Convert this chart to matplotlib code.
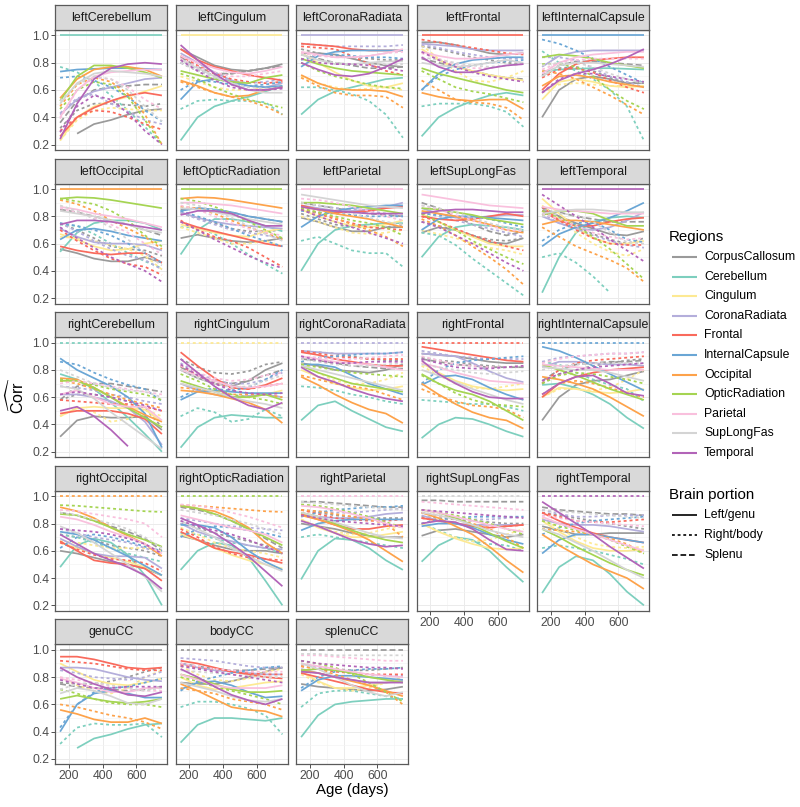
import numpy as np
import matplotlib
matplotlib.use("Agg")
import matplotlib.pyplot as plt
from matplotlib.lines import Line2D

plt.rcParams['font.family'] = ['Liberation Sans', 'DejaVu Sans']
plt.rcParams['mathtext.fontset'] = 'custom'
plt.rcParams['mathtext.rm'] = 'Liberation Sans'
plt.rcParams['mathtext.it'] = 'Liberation Sans:italic'

# ---------------- data ----------------
AGES = [150, 250, 350, 450, 550, 650, 750]
SELF_CORR = 1.0

REGIONS = ['CorpusCallosum', 'Cerebellum', 'Cingulum', 'CoronaRadiata', 'Frontal',
           'InternalCapsule', 'Occipital', 'OpticRadiation', 'Parietal', 'SupLongFas', 'Temporal']
COLORS = ['#9a9a9a', '#7dcfbe', '#fde993', '#b4aedb', '#f96a5c', '#6aa6d5',
          '#fda24a', '#a5d452', '#f9c0dd', '#d4d4d4', '#b264b8']
PORTIONS = ['Left/genu', 'Right/body', 'Splenu']

PANELS = ['leftCerebellum', 'leftCingulum', 'leftCoronaRadiata', 'leftFrontal', 'leftInternalCapsule',
          'leftOccipital', 'leftOpticRadiation', 'leftParietal', 'leftSupLongFas', 'leftTemporal',
          'rightCerebellum', 'rightCingulum', 'rightCoronaRadiata', 'rightFrontal', 'rightInternalCapsule',
          'rightOccipital', 'rightOpticRadiation', 'rightParietal', 'rightSupLongFas', 'rightTemporal',
          'genuCC', 'bodyCC', 'splenuCC']
PANEL_REGION = [1, 2, 3, 4, 5, 6, 7, 8, 9, 10, 1, 2, 3, 4, 5, 6, 7, 8, 9, 10, 0, 0, 0]
PANEL_PORTION = [0] * 10 + [1] * 10 + [0, 1, 2]

# Each list: curves of that panel's variable against every LATER variable in PANELS order
leftCerebellum = [
    [0.23, 0.40, 0.48, 0.52, 0.55, 0.59, 0.63],
    [0.42, 0.53, 0.59, 0.62, 0.65, 0.68, 0.69],
    [0.26, 0.40, 0.47, 0.52, 0.56, 0.58, 0.56],
    [0.735, 0.75, 0.755, 0.76, 0.76, 0.755, 0.75],
    [0.54, 0.68, 0.75, 0.77, 0.77, 0.75, 0.70],
    [0.52, 0.70, 0.78, 0.78, 0.76, 0.73, 0.69],
    [0.40, 0.60, 0.70, 0.73, 0.74, 0.75, 0.75],
    [0.50, 0.65, 0.72, 0.74, 0.73, 0.72, 0.70],
    [0.24, 0.50, 0.68, 0.76, 0.79, 0.80, 0.79],
    [0.77, 0.73, 0.66, 0.56, 0.45, 0.33, 0.20],
    [0.23, 0.38, 0.45, 0.47, 0.46, 0.45, 0.45],
    [0.43, 0.54, 0.57, 0.50, 0.44, 0.38, 0.35],
    [0.30, 0.40, 0.45, 0.44, 0.40, 0.35, 0.31],
    [0.69, 0.70, 0.67, 0.62, 0.55, 0.45, 0.37],
    [0.48, 0.64, 0.69, 0.66, 0.57, 0.42, 0.20],
    [0.46, 0.60, 0.66, 0.64, 0.55, 0.38, 0.20],
    [0.39, 0.60, 0.69, 0.68, 0.62, 0.53, 0.46],
    [0.52, 0.64, 0.70, 0.68, 0.60, 0.48, 0.37],
    [0.29, 0.48, 0.56, 0.53, 0.43, 0.30, 0.20],
    [None, 0.28, 0.35, 0.38, 0.42, 0.45, 0.46],
    [0.32, 0.45, 0.50, 0.50, 0.49, 0.48, 0.50],
    [0.36, 0.52, 0.60, 0.62, 0.63, 0.64, 0.64],
]
leftCingulum = [
    [0.87, 0.80, 0.73, 0.67, 0.63, 0.62, 0.65],
    [0.90, 0.82, 0.77, 0.74, 0.71, 0.69, 0.67],
    [0.53, 0.66, 0.68, 0.66, 0.63, 0.62, 0.63],
    [0.67, 0.63, 0.58, 0.55, 0.56, 0.60, 0.62],
    [0.74, 0.71, 0.68, 0.66, 0.65, 0.69, 0.71],
    [0.85, 0.80, 0.76, 0.73, 0.72, 0.74, 0.77],
    [0.82, 0.76, 0.70, 0.65, 0.60, 0.58, 0.58],
    [0.93, 0.82, 0.72, 0.64, 0.60, 0.60, 0.62],
    [0.46, 0.52, 0.53, 0.52, 0.52, 0.51, 0.42],
    [0.70, 0.66, 0.62, 0.60, 0.60, 0.62, 0.65],
    [0.80, 0.75, 0.70, 0.67, 0.65, 0.66, 0.68],
    [0.85, 0.78, 0.72, 0.68, 0.66, 0.65, 0.66],
    [0.60, 0.67, 0.66, 0.64, 0.63, 0.64, 0.66],
    [0.66, 0.62, 0.58, 0.55, 0.52, 0.48, 0.42],
    [0.72, 0.68, 0.62, 0.57, 0.53, 0.50, 0.47],
    [0.83, 0.77, 0.73, 0.70, 0.70, 0.72, 0.74],
    [0.80, 0.74, 0.69, 0.65, 0.62, 0.61, 0.62],
    [0.82, 0.74, 0.67, 0.62, 0.60, 0.60, 0.61],
    [0.90, 0.84, 0.78, 0.75, 0.74, 0.76, 0.79],
    [0.80, 0.74, 0.71, 0.72, 0.74, 0.76, 0.77],
    [0.84, 0.77, 0.72, 0.72, 0.74, 0.76, 0.78],
]
leftCoronaRadiata = [
    [0.94, 0.93, 0.92, 0.90, 0.89, 0.89, 0.89],
    [0.77, 0.85, 0.88, 0.89, 0.89, 0.89, 0.89],
    [0.71, 0.65, 0.61, 0.60, 0.60, 0.59, 0.55],
    [0.83, 0.79, 0.76, 0.74, 0.73, 0.72, 0.71],
    [0.88, 0.86, 0.84, 0.84, 0.85, 0.87, 0.90],
    [0.86, 0.82, 0.79, 0.79, 0.80, 0.81, 0.81],
    [0.80, 0.75, 0.71, 0.70, 0.72, 0.77, 0.83],
    [0.62, 0.62, 0.60, 0.57, 0.52, 0.42, 0.25],
    [0.70, 0.65, 0.62, 0.60, 0.61, 0.62, 0.60],
    [0.94, 0.93, 0.92, 0.92, 0.92, 0.92, 0.93],
    [0.92, 0.91, 0.90, 0.85, 0.79, 0.74, 0.71],
    [0.82, 0.86, 0.86, 0.85, 0.84, 0.84, 0.83],
    [0.69, 0.63, 0.58, 0.56, 0.56, 0.55, 0.47],
    [0.80, 0.74, 0.70, 0.67, 0.64, 0.62, 0.61],
    [0.87, 0.85, 0.84, 0.84, 0.85, 0.87, 0.88],
    [0.86, 0.82, 0.80, 0.79, 0.79, 0.79, 0.79],
    [0.83, 0.80, 0.79, 0.79, 0.78, 0.76, 0.74],
    [0.87, 0.87, 0.86, 0.83, 0.80, 0.78, 0.77],
    [0.90, 0.87, 0.85, 0.84, 0.83, 0.82, 0.82],
    [0.86, 0.83, 0.80, 0.78, 0.76, 0.76, 0.77],
]
leftFrontal = [
    [0.60, 0.72, 0.79, 0.82, 0.83, 0.84, 0.84],
    [0.58, 0.55, 0.53, 0.52, 0.53, 0.53, 0.46],
    [0.76, 0.72, 0.69, 0.66, 0.63, 0.60, 0.58],
    [0.88, 0.85, 0.83, 0.83, 0.84, 0.86, 0.87],
    [0.80, 0.78, 0.77, 0.78, 0.80, 0.82, 0.80],
    [0.84, 0.77, 0.73, 0.73, 0.76, 0.78, 0.79],
    [0.48, 0.50, 0.50, 0.50, 0.48, 0.44, 0.33],
    [0.93, 0.83, 0.74, 0.67, 0.66, 0.69, 0.74],
    [0.93, 0.91, 0.88, 0.86, 0.84, 0.83, 0.83],
    [0.97, 0.95, 0.93, 0.91, 0.89, 0.87, 0.86],
    [0.60, 0.70, 0.75, 0.78, 0.80, 0.81, 0.82],
    [0.67, 0.60, 0.53, 0.51, 0.50, 0.47, 0.38],
    [0.74, 0.68, 0.62, 0.59, 0.57, 0.54, 0.51],
    [0.87, 0.83, 0.79, 0.76, 0.76, 0.78, 0.79],
    [0.84, 0.82, 0.80, 0.78, 0.77, 0.78, 0.79],
    [0.88, 0.82, 0.77, 0.73, 0.70, 0.68, 0.66],
    [0.95, 0.95, 0.93, 0.90, 0.87, 0.86, 0.87],
    [0.92, 0.90, 0.87, 0.84, 0.82, 0.80, 0.79],
    [0.83, 0.80, 0.77, 0.74, 0.71, 0.69, 0.68],
]
leftInternalCapsule = [
    [0.63, 0.70, 0.71, 0.69, 0.66, 0.64, 0.62],
    [0.84, 0.86, 0.85, 0.83, 0.80, 0.78, 0.76],
    [0.72, 0.80, 0.84, 0.86, 0.87, 0.88, 0.88],
    [0.70, 0.78, 0.80, 0.80, 0.79, 0.78, 0.77],
    [0.58, 0.67, 0.72, 0.75, 0.79, 0.84, 0.90],
    [0.885, 0.80, 0.74, 0.68, 0.60, 0.48, 0.23],
    [0.58, 0.64, 0.65, 0.64, 0.63, 0.63, 0.63],
    [0.84, 0.84, 0.82, 0.76, 0.70, 0.66, 0.62],
    [0.69, 0.75, 0.76, 0.73, 0.67, 0.62, 0.58],
    [0.97, 0.94, 0.89, 0.83, 0.77, 0.71, 0.65],
    [0.74, 0.72, 0.68, 0.62, 0.56, 0.49, 0.42],
    [0.79, 0.79, 0.77, 0.70, 0.60, 0.52, 0.46],
    [0.75, 0.80, 0.82, 0.83, 0.83, 0.83, 0.83],
    [0.78, 0.80, 0.80, 0.77, 0.72, 0.68, 0.65],
    [0.58, 0.68, 0.72, 0.72, 0.70, 0.68, 0.66],
    [0.40, 0.60, 0.68, 0.70, 0.68, 0.65, 0.65],
    [0.71, 0.76, 0.77, 0.74, 0.69, 0.65, 0.66],
    [0.70, 0.78, 0.81, 0.81, 0.80, 0.79, 0.78],
]
leftOccipital = [
    [0.93, 0.94, 0.935, 0.92, 0.90, 0.88, 0.86],
    [0.87, 0.85, 0.82, 0.80, 0.78, 0.75, 0.72],
    [0.84, 0.82, 0.80, 0.77, 0.74, 0.70, 0.68],
    [0.74, 0.77, 0.77, 0.76, 0.74, 0.72, 0.70],
    [0.74, 0.73, 0.67, 0.60, 0.53, 0.47, 0.42],
    [0.65, 0.64, 0.62, 0.59, 0.56, 0.51, 0.41],
    [0.75, 0.69, 0.62, 0.56, 0.51, 0.48, 0.41],
    [0.70, 0.62, 0.55, 0.49, 0.45, 0.43, 0.37],
    [0.75, 0.73, 0.70, 0.66, 0.60, 0.53, 0.46],
    [0.92, 0.89, 0.84, 0.77, 0.71, 0.65, 0.56],
    [0.93, 0.91, 0.89, 0.84, 0.77, 0.66, 0.58],
    [0.86, 0.83, 0.79, 0.74, 0.68, 0.60, 0.52],
    [0.88, 0.84, 0.78, 0.72, 0.63, 0.53, 0.44],
    [0.72, 0.64, 0.57, 0.50, 0.45, 0.40, 0.32],
    [0.56, 0.53, 0.49, 0.47, 0.47, 0.50, 0.46],
    [0.75, 0.70, 0.64, 0.58, 0.56, 0.55, 0.51],
    [0.85, 0.83, 0.80, 0.77, 0.74, 0.70, 0.66],
]
leftOpticRadiation = [
    [0.90, 0.90, 0.89, 0.88, 0.86, 0.84, 0.82],
    [0.86, 0.85, 0.83, 0.81, 0.78, 0.76, 0.74],
    [0.81, 0.84, 0.84, 0.82, 0.77, 0.73, 0.73],
    [0.72, 0.72, 0.67, 0.60, 0.52, 0.45, 0.38],
    [0.72, 0.68, 0.64, 0.60, 0.60, 0.62, 0.58],
    [0.83, 0.78, 0.74, 0.70, 0.68, 0.66, 0.64],
    [0.77, 0.70, 0.65, 0.62, 0.57, 0.50, 0.43],
    [0.84, 0.80, 0.76, 0.71, 0.66, 0.62, 0.58],
    [0.87, 0.86, 0.82, 0.77, 0.72, 0.68, 0.63],
    [0.93, 0.91, 0.87, 0.82, 0.76, 0.70, 0.64],
    [0.88, 0.85, 0.80, 0.75, 0.71, 0.68, 0.66],
    [0.90, 0.88, 0.84, 0.79, 0.73, 0.67, 0.62],
    [0.76, 0.70, 0.63, 0.57, 0.51, 0.46, 0.42],
    [0.64, 0.665, 0.64, 0.62, 0.61, 0.62, 0.64],
    [0.82, 0.79, 0.75, 0.71, 0.69, 0.69, 0.70],
    [0.85, 0.86, 0.85, 0.83, 0.80, 0.78, 0.76],
]
leftParietal = [
    [0.96, 0.94, 0.92, 0.90, 0.88, 0.87, 0.86],
    [0.87, 0.85, 0.84, 0.83, 0.82, 0.82, 0.82],
    [0.62, 0.65, 0.60, 0.55, 0.53, 0.53, 0.43],
    [0.80, 0.76, 0.72, 0.68, 0.67, 0.68, 0.70],
    [0.90, 0.88, 0.86, 0.85, 0.84, 0.82, 0.80],
    [0.85, 0.82, 0.78, 0.75, 0.72, 0.71, 0.70],
    [0.84, 0.83, 0.82, 0.81, 0.80, 0.80, 0.80],
    [0.85, 0.83, 0.79, 0.74, 0.70, 0.65, 0.58],
    [0.86, 0.83, 0.80, 0.77, 0.75, 0.72, 0.66],
    [0.93, 0.92, 0.90, 0.87, 0.84, 0.80, 0.77],
    [0.90, 0.88, 0.85, 0.82, 0.79, 0.76, 0.74],
    [0.85, 0.80, 0.76, 0.72, 0.68, 0.64, 0.60],
    [0.79, 0.76, 0.72, 0.69, 0.69, 0.72, 0.72],
    [0.82, 0.78, 0.74, 0.72, 0.72, 0.72, 0.74],
    [0.90, 0.88, 0.86, 0.84, 0.82, 0.81, 0.80],
]
leftSupLongFas = [
    [0.82, 0.84, 0.85, 0.85, 0.84, 0.83, 0.83],
    [0.68, 0.66, 0.59, 0.49, 0.40, 0.31, 0.22],
    [0.70, 0.67, 0.64, 0.60, 0.57, 0.55, 0.52],
    [0.83, 0.80, 0.77, 0.74, 0.71, 0.68, 0.65],
    [0.80, 0.76, 0.71, 0.66, 0.62, 0.58, 0.55],
    [0.82, 0.81, 0.80, 0.80, 0.78, 0.75, 0.72],
    [0.78, 0.73, 0.66, 0.58, 0.50, 0.41, 0.30],
    [0.82, 0.76, 0.70, 0.62, 0.56, 0.50, 0.45],
    [0.88, 0.85, 0.81, 0.77, 0.73, 0.70, 0.69],
    [0.88, 0.86, 0.83, 0.79, 0.75, 0.72, 0.70],
    [0.76, 0.72, 0.66, 0.60, 0.53, 0.46, 0.40],
    [0.68, 0.72, 0.70, 0.66, 0.61, 0.60, 0.64],
    [0.76, 0.73, 0.70, 0.66, 0.63, 0.62, 0.64],
    [0.90, 0.86, 0.80, 0.74, 0.69, 0.66, 0.69],
]
leftTemporal = [
    [0.50, 0.53, 0.46, 0.36, 0.24, None, None],
    [0.88, 0.78, 0.68, 0.60, 0.54, 0.51, 0.56],
    [0.82, 0.75, 0.71, 0.66, 0.62, 0.59, 0.57],
    [0.87, 0.77, 0.70, 0.64, 0.60, 0.59, 0.59],
    [0.62, 0.70, 0.75, 0.76, 0.70, 0.63, 0.61],
    [0.72, 0.65, 0.58, 0.53, 0.48, 0.42, 0.32],
    [0.84, 0.79, 0.73, 0.65, 0.56, 0.45, 0.34],
    [0.82, 0.78, 0.73, 0.68, 0.65, 0.63, 0.64],
    [0.80, 0.82, 0.81, 0.76, 0.68, 0.61, 0.60],
    [0.96, 0.88, 0.80, 0.72, 0.63, 0.55, 0.47],
    [0.87, 0.80, 0.75, 0.71, 0.67, 0.66, 0.69],
    [0.86, 0.80, 0.73, 0.67, 0.63, 0.60, 0.64],
    [0.84, 0.83, 0.80, 0.78, 0.76, 0.76, 0.76],
]
rightCerebellum = [
    [0.46, 0.52, 0.49, 0.42, 0.44, 0.51, 0.46],
    [0.68, 0.67, 0.65, 0.62, 0.60, 0.57, 0.55],
    [0.58, 0.57, 0.56, 0.55, 0.55, 0.53, 0.50],
    [0.86, 0.84, 0.78, 0.73, 0.69, 0.66, 0.57],
    [0.72, 0.70, 0.66, 0.62, 0.58, 0.55, 0.52],
    [0.73, 0.72, 0.69, 0.66, 0.64, 0.62, 0.58],
    [0.70, 0.72, 0.70, 0.68, 0.66, 0.64, 0.62],
    [0.80, 0.75, 0.70, 0.67, 0.65, 0.64, 0.60],
    [0.62, 0.64, 0.62, 0.60, 0.57, 0.54, 0.50],
    [0.31, 0.43, 0.46, 0.45, 0.45, 0.46, 0.36],
    [0.58, 0.62, 0.62, 0.60, 0.57, 0.52, 0.38],
    [0.58, 0.68, 0.70, 0.70, 0.68, 0.66, 0.64],
]
rightCingulum = [
    [0.85, 0.78, 0.72, 0.70, 0.70, 0.73, 0.78],
    [0.83, 0.76, 0.70, 0.67, 0.66, 0.68, 0.70],
    [0.60, 0.66, 0.66, 0.65, 0.67, 0.73, 0.80],
    [0.67, 0.66, 0.64, 0.62, 0.62, 0.62, 0.60],
    [0.77, 0.72, 0.66, 0.62, 0.60, 0.58, 0.55],
    [0.83, 0.78, 0.74, 0.72, 0.73, 0.76, 0.78],
    [0.80, 0.74, 0.70, 0.67, 0.68, 0.72, 0.76],
    [0.84, 0.76, 0.70, 0.65, 0.63, 0.62, 0.63],
    [0.80, 0.74, 0.70, 0.68, 0.72, 0.80, 0.85],
    [0.88, 0.82, 0.78, 0.77, 0.79, 0.84, 0.86],
    [0.82, 0.76, 0.72, 0.70, 0.72, 0.76, 0.80],
]
rightCoronaRadiata = [
    [0.94, 0.92, 0.90, 0.89, 0.88, 0.88, 0.88],
    [0.86, 0.89, 0.90, 0.91, 0.92, 0.92, 0.93],
    [0.76, 0.73, 0.70, 0.68, 0.66, 0.62, 0.58],
    [0.84, 0.82, 0.80, 0.78, 0.77, 0.76, 0.75],
    [0.90, 0.89, 0.88, 0.88, 0.89, 0.90, 0.91],
    [0.88, 0.86, 0.84, 0.83, 0.83, 0.84, 0.85],
    [0.90, 0.87, 0.85, 0.85, 0.86, 0.86, 0.86],
    [0.85, 0.83, 0.80, 0.79, 0.78, 0.80, 0.84],
    [0.94, 0.93, 0.92, 0.90, 0.88, 0.87, 0.87],
    [0.88, 0.87, 0.85, 0.83, 0.82, 0.81, 0.81],
]
rightFrontal = [
    [0.70, 0.80, 0.85, 0.87, 0.88, 0.89, 0.90],
    [0.66, 0.61, 0.57, 0.54, 0.53, 0.51, 0.45],
    [0.76, 0.70, 0.63, 0.58, 0.55, 0.54, 0.53],
    [0.90, 0.87, 0.84, 0.83, 0.82, 0.82, 0.83],
    [0.84, 0.82, 0.80, 0.78, 0.77, 0.78, 0.79],
    [0.88, 0.85, 0.82, 0.81, 0.81, 0.82, 0.83],
    [0.92, 0.91, 0.90, 0.88, 0.86, 0.85, 0.85],
    [0.89, 0.87, 0.86, 0.84, 0.83, 0.82, 0.82],
    [0.88, 0.86, 0.84, 0.83, 0.82, 0.82, 0.82],
]
rightInternalCapsule = [
    [0.62, 0.70, 0.72, 0.70, 0.67, 0.63, 0.60],
    [0.70, 0.76, 0.78, 0.77, 0.75, 0.73, 0.70],
    [0.85, 0.88, 0.90, 0.91, 0.92, 0.92, 0.93],
    [0.80, 0.83, 0.84, 0.85, 0.85, 0.85, 0.85],
    [0.72, 0.77, 0.80, 0.82, 0.83, 0.84, 0.85],
    [0.43, 0.60, 0.69, 0.72, 0.73, 0.76, 0.79],
    [0.70, 0.77, 0.80, 0.83, 0.85, 0.87, 0.88],
    [0.72, 0.80, 0.84, 0.85, 0.86, 0.86, 0.87],
]
rightOccipital = [
    [0.935, 0.93, 0.92, 0.91, 0.90, 0.89, 0.885],
    [0.90, 0.89, 0.87, 0.85, 0.83, 0.80, 0.70],
    [0.88, 0.86, 0.83, 0.80, 0.76, 0.70, 0.62],
    [0.76, 0.75, 0.74, 0.72, 0.69, 0.65, 0.58],
    [0.60, 0.58, 0.55, 0.52, 0.50, 0.47, 0.42],
    [0.72, 0.70, 0.68, 0.64, 0.62, 0.60, 0.56],
    [0.88, 0.86, 0.82, 0.78, 0.74, 0.69, 0.60],
]
rightOpticRadiation = [
    [0.94, 0.93, 0.91, 0.88, 0.85, 0.81, 0.77],
    [0.90, 0.88, 0.86, 0.83, 0.80, 0.76, 0.72],
    [0.82, 0.78, 0.75, 0.72, 0.68, 0.63, 0.58],
    [0.71, 0.68, 0.64, 0.61, 0.60, 0.60, 0.58],
    [0.80, 0.77, 0.73, 0.70, 0.67, 0.64, 0.60],
    [0.92, 0.90, 0.87, 0.82, 0.76, 0.69, 0.62],
]
rightParietal = [
    [0.96, 0.95, 0.94, 0.93, 0.92, 0.91, 0.90],
    [0.86, 0.84, 0.82, 0.81, 0.80, 0.79, 0.78],
    [0.80, 0.78, 0.76, 0.73, 0.71, 0.70, 0.70],
    [0.90, 0.88, 0.86, 0.85, 0.84, 0.84, 0.84],
    [0.96, 0.96, 0.95, 0.94, 0.93, 0.92, 0.92],
]
rightSupLongFas = [
    [0.90, 0.89, 0.88, 0.87, 0.86, 0.85, 0.84],
    [0.71, 0.75, 0.76, 0.74, 0.72, 0.70, 0.72],
    [0.85, 0.84, 0.83, 0.82, 0.81, 0.80, 0.80],
    [0.97, 0.97, 0.96, 0.96, 0.96, 0.96, 0.96],
]
rightTemporal = [
    [0.78, 0.75, 0.72, 0.72, 0.73, 0.73, 0.73],
    [0.88, 0.86, 0.84, 0.82, 0.80, 0.78, 0.76],
    [0.92, 0.90, 0.89, 0.88, 0.87, 0.87, 0.86],
]
genuCC = [
    [0.76, 0.75, 0.75, 0.77, 0.80, 0.84, 0.87],
    [0.75, 0.73, 0.72, 0.71, 0.70, 0.71, 0.73],
]
bodyCC = [
    [0.90, 0.88, 0.86, 0.85, 0.85, 0.86, 0.87],
]
splenuCC = []

CURVES = [leftCerebellum, leftCingulum, leftCoronaRadiata, leftFrontal, leftInternalCapsule,
          leftOccipital, leftOpticRadiation, leftParietal, leftSupLongFas, leftTemporal,
          rightCerebellum, rightCingulum, rightCoronaRadiata, rightFrontal, rightInternalCapsule,
          rightOccipital, rightOpticRadiation, rightParietal, rightSupLongFas, rightTemporal,
          genuCC, bodyCC, splenuCC]


def pair_curve(i, j):
    if i == j:
        return np.full(len(AGES), SELF_CORR)
    a, b = (i, j) if i < j else (j, i)
    return np.array(CURVES[a][b - a - 1], dtype=float)


# ---------------- styling ----------------
LW = 1.25
DASHES = ['-', (0, (1.7, 1.7)), (0, (3.4, 1.7))]

W, H = 800, 807
fig = plt.figure(figsize=(W / 100, H / 100), dpi=100)
fig.patch.set_facecolor('white')

col_left = [55 + c * 120.5 for c in range(5)]
row_top = [5 + r * 153.6 for r in range(5)]
PW, PH, SH = 112, 120, 25

draw_order = sorted(range(len(PANELS)), key=lambda v: (PANEL_REGION[v], PANEL_PORTION[v]))
bottom_panels = {18, 19, 20, 21, 22}

for k, name in enumerate(PANELS):
    r, c = divmod(k, 5)
    x0, y0 = col_left[c], row_top[r]
    ax = fig.add_axes([x0 / W, 1 - (y0 + SH + PH) / H, PW / W, PH / H])
    sax = fig.add_axes([x0 / W, 1 - (y0 + SH) / H, PW / W, SH / H])

    ax.set_xlim(120, 780)
    ax.set_ylim(0.16, 1.04)
    ax.set_xticks([200, 400, 600])
    ax.set_xticks([300, 500, 700], minor=True)
    ax.set_yticks([0.2, 0.4, 0.6, 0.8, 1.0])
    ax.set_yticks([0.3, 0.5, 0.7, 0.9], minor=True)
    ax.set_yticklabels(['0.2', '0.4', '0.6', '0.8', '1.0'])
    ax.grid(which='major', color='#ebebeb', lw=0.7)
    ax.grid(which='minor', color='#f3f3f3', lw=0.45)
    ax.set_axisbelow(True)
    for s in ax.spines.values():
        s.set_color('#5a5a5a')
        s.set_linewidth(0.9)
    ax.tick_params(which='minor', length=0)
    ax.tick_params(which='major', length=2.8, width=0.6, color='#333333',
                   labelsize=8.8, labelcolor='#4d4d4d', pad=1.5)
    ax.tick_params(axis='y', left=(c == 0), labelleft=(c == 0))
    ax.tick_params(axis='x', bottom=(k in bottom_panels), labelbottom=(k in bottom_panels))

    for v in draw_order:
        y = pair_curve(k, v)
        ax.plot(AGES, y, color=COLORS[PANEL_REGION[v]], lw=LW,
                linestyle=DASHES[PANEL_PORTION[v]], solid_capstyle='butt',
                dash_capstyle='butt', solid_joinstyle='round')

    sax.set_facecolor('#d9d9d9')
    sax.set_xticks([])
    sax.set_yticks([])
    for s in sax.spines.values():
        s.set_color('#5a5a5a')
        s.set_linewidth(0.9)
    sax.text(0.5, 0.48, name, ha='center', va='center', fontsize=8.9,
             color='#1a1a1a', transform=sax.transAxes)

# axis titles
fig.text(352 / W, 1 - 790 / H, 'Age (days)', ha='center', va='center', fontsize=10.8)
fig.text(16 / W, 1 - 396 / H, r'$\widehat{\mathrm{Corr}}$', ha='center', va='center',
         rotation=90, fontsize=11.5)

# legends
fig.text(669 / W, 1 - 237 / H, 'Regions', ha='left', va='center', fontsize=10.8)
for i, reg in enumerate(REGIONS):
    yy = 1 - (257 + i * 19.6) / H
    fig.add_artist(Line2D([672 / W, 697 / W], [yy, yy], transform=fig.transFigure,
                          color=COLORS[i], lw=1.5, solid_capstyle='butt'))
    fig.text(704 / W, yy, reg, ha='left', va='center', fontsize=8.8)

fig.text(669 / W, 1 - 495 / H, 'Brain portion', ha='left', va='center', fontsize=10.8)
for i, por in enumerate(PORTIONS):
    yy = 1 - (515 + i * 20) / H
    fig.add_artist(Line2D([672 / W, 697 / W], [yy, yy], transform=fig.transFigure,
                          color='black', lw=1.2, linestyle=DASHES[i],
                          solid_capstyle='butt', dash_capstyle='butt'))
    fig.text(704 / W, yy, por, ha='left', va='center', fontsize=8.8)

fig.savefig('out.png', dpi=100, facecolor='white')
